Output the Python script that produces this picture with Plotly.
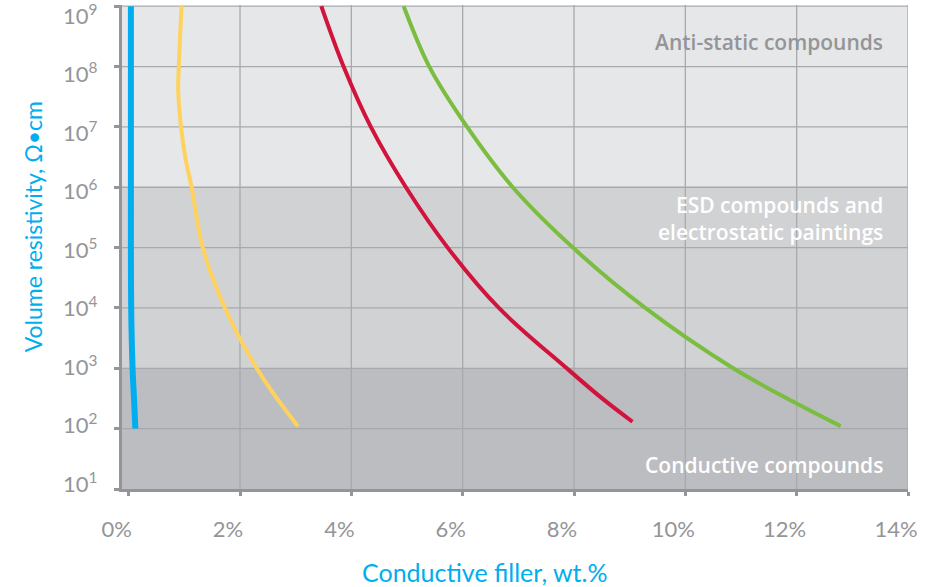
import plotly.graph_objects as go

# ---- data ----
x_ticks = [0, 2, 4, 6, 8, 10, 12, 14]
x_ticktext = ["0%", "2%", "4%", "6%", "8%", "10%", "12%", "14%"]
y_exp = [1, 2, 3, 4, 5, 6, 7, 8, 9]
y_ticks = [10 ** e for e in y_exp]
y_ticktext = [f"10<sup>{e}</sup>" for e in y_exp]

blue_x = [0.04, 0.04, 0.04, 0.04, 0.04, 0.045, 0.07, 0.095, 0.12]
blue_y = [1e9, 1e8, 1e7, 1e6, 1e5, 1e4, 1e3, 3.2e2, 1e2]

yellow_x = [0.95, 0.90, 0.89, 0.94, 1.02, 1.13, 1.33, 1.73, 2.30, 2.66, 3.04]
yellow_y = [1e9, 1e8, 4e7, 1e7, 3e6, 1e6, 1e5, 1e4, 1e3, 3.2e2, 1.1e2]

red_x = [3.46, 3.86, 4.35, 4.98, 5.73, 6.65, 7.87, 8.50, 9.05]
red_y = [1e9, 1e8, 1e7, 1e6, 1e5, 1e4, 1e3, 3.2e2, 1.3e2]

green_x = [4.94, 5.40, 6.08, 6.90, 7.98, 9.28, 10.86, 12.0, 12.79]
green_y = [1e9, 1e8, 1e7, 1e6, 1e5, 1e4, 1e3, 2.6e2, 1.1e2]

bands = [(1e6, 1e9, "#e6e7e8"), (1e3, 1e6, "#d1d2d4"), (1e1, 1e3, "#bcbdc0")]

GRID = "#a7a9ac"
AXIS = "#939598"
FONT = "Lato"
LABEL_FONT = "Open Sans"

fig = go.Figure()

series = [
    (blue_x, blue_y, "#00aeef", 6),
    (yellow_x, yellow_y, "#ffd25e", 4),
    (red_x, red_y, "#d0143b", 4),
    (green_x, green_y, "#7abd40", 4),
]
for xs, ys, col, w in series:
    fig.add_trace(go.Scatter(x=xs, y=ys, mode="lines",
                             line=dict(color=col, width=w, shape="spline", smoothing=1.0),
                             hoverinfo="skip", showlegend=False, cliponaxis=False))

shapes = []
for y0, y1, c in bands:
    shapes.append(dict(type="rect", xref="paper", yref="y", x0=0, x1=1, y0=y0, y1=y1,
                       fillcolor=c, line=dict(width=0), layer="below"))
for xv in x_ticks[1:]:
    shapes.append(dict(type="line", xref="x", yref="paper", x0=xv, x1=xv, y0=0, y1=1,
                       line=dict(color=GRID, width=1.3), layer="below"))
for yv in y_ticks[1:]:
    shapes.append(dict(type="line", xref="paper", yref="y", x0=0, x1=1, y0=yv, y1=yv,
                       line=dict(color=GRID, width=1.3), layer="below"))

annotations = [
    dict(text="Anti-static compounds", xref="paper", yref="y", x=0.971, y=8.41,
         xanchor="right", yanchor="middle", showarrow=False,
         font=dict(family=LABEL_FONT, size=21, color=AXIS, weight=600)),
    dict(text="ESD compounds and<br>electrostatic paintings", xref="paper", yref="y",
         x=0.971, y=5.48, xanchor="right", yanchor="middle", align="right", showarrow=False,
         font=dict(family=LABEL_FONT, size=21, color="white", weight=600)),
    dict(text="Conductive compounds", xref="paper", yref="y", x=0.971, y=1.40,
         xanchor="right", yanchor="middle", showarrow=False,
         font=dict(family=LABEL_FONT, size=21, color="white", weight=600)),
    dict(text="Volume resistivity, Ω•cm", xref="paper", yref="paper", x=-0.113, y=0.541,
         xanchor="center", yanchor="middle", textangle=-90, showarrow=False,
         font=dict(family=FONT, size=23, color="#00aeef")),
    dict(text="Conductive filler, wt.%", xref="paper", yref="paper", x=0.462, y=-0.172,
         xanchor="center", yanchor="middle", showarrow=False,
         font=dict(family=FONT, size=25, color="#00aeef")),
]
# y tick labels (placed as text so the top label stays inside the page)
for e, txt in zip(y_exp, y_ticktext):
    annotations.append(dict(text=txt, xref="paper", yref="y", x=-0.077, y=e,
                            xanchor="left", yanchor="middle", showarrow=False,
                            yshift=7 - 1.85 * (e - 1),
                            font=dict(family=FONT, size=22, color=AXIS)))

fig.update_layout(
    width=934, height=587,
    margin=dict(l=122, r=26, t=5, b=98, autoexpand=False),
    paper_bgcolor="white", plot_bgcolor="white",
    shapes=shapes, annotations=annotations,
    xaxis=dict(range=[-0.12, 14.0], tickvals=x_ticks, ticktext=x_ticktext, automargin=False,
               showgrid=False, zeroline=False, showline=True, linecolor=AXIS, linewidth=3,
               ticks="outside", ticklen=4, tickwidth=3, tickcolor=AXIS,
               ticklabelstandoff=15, ticklabelshift=-12, ticklabeloverflow="allow",
               tickfont=dict(family=FONT, size=22, color=AXIS)),
    yaxis=dict(type="log", range=[1, 9.02], tickvals=y_ticks, showticklabels=False,
               automargin=False,
               showgrid=False, zeroline=False, showline=True, linecolor=AXIS, linewidth=3,
               ticks="outside", ticklen=5, tickwidth=3, tickcolor=AXIS),
)

fig.write_html("out.html", config={"displayModeBar": False},
               post_script="document.body.style.margin='0';")
